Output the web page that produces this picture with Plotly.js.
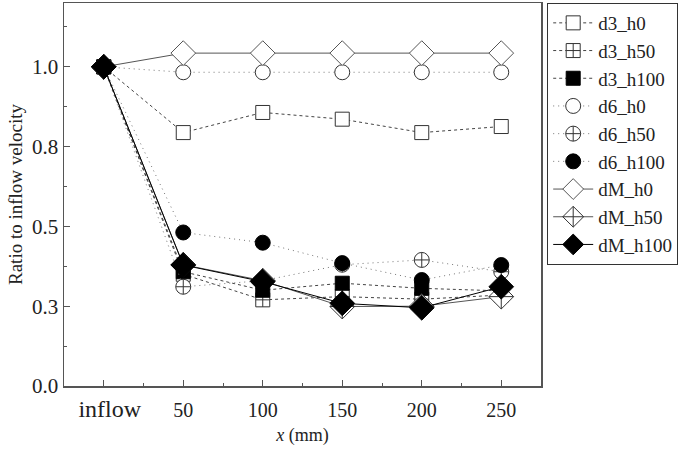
<!DOCTYPE html>
<html><head><meta charset="utf-8">
<script src="https://cdn.plot.ly/plotly-3.0.1.min.js"></script>
<style>html,body{margin:0;padding:0;background:#fff}#c{width:685px;height:449px}</style>
</head><body><div id="c"></div>
<script>
const xVals = [0, 50, 100, 150, 200, 250];
const xTickText = ['<span style="font-size:24px">&nbsp;&nbsp;inflow</span>', '50', '100', '150', '200', '250'];
const yTickVals = [0, 0.25, 0.5, 0.75, 1.0];
const yTickText = ['0.0', '0.3', '0.5', '0.8', '1.0'];

const d3_h0   = [1.0, 0.794, 0.857, 0.836, 0.794, 0.813];
const d3_h50  = [1.0, 0.350, 0.270, 0.280, 0.272, 0.285];
const d3_h100 = [1.0, 0.358, 0.300, 0.322, 0.306, 0.298];
const d6_h0   = [1.0, 0.983, 0.983, 0.983, 0.983, 0.983];
const d6_h50  = [1.0, 0.311, 0.330, 0.380, 0.395, 0.358];
const d6_h100 = [1.0, 0.481, 0.449, 0.385, 0.332, 0.379];
const dM_h0   = [1.0, 1.043, 1.043, 1.043, 1.043, 1.043];
const dM_h50  = [1.0, 0.380, 0.330, 0.249, 0.250, 0.280];
const dM_h100 = [1.0, 0.379, 0.327, 0.259, 0.245, 0.311];

function tr(name, y, symbol, fill, size, dash, lcol, mline) {
  return {
    x: xVals, y: y, name: name, type: 'scatter', mode: 'lines+markers',
    line: {color: lcol, width: 1, dash: dash},
    marker: {symbol: symbol, size: size, color: fill, line: {color: mline, width: 1}}
  };
}
const data = [
  tr('d3_h0',   d3_h0,   'square',       '#fff', 14, 'dot', '#444', '#333'),
  tr('d3_h50',  d3_h50,  'square-cross', '#fff', 14, 'dot', '#444', '#333'),
  tr('d3_h100', d3_h100, 'square',       '#000', 14, 'dot', '#444', '#000'),
  tr('d6_h0',   d6_h0,   'circle',       '#fff', 15, '1px,4px', '#777', '#333'),
  tr('d6_h50',  d6_h50,  'circle-cross', '#fff', 15, '1px,4px', '#777', '#333'),
  tr('d6_h100', d6_h100, 'circle',       '#000', 15, '1px,4px', '#777', '#000'),
  tr('dM_h0',   dM_h0,   'diamond',       '#fff', 19, 'solid', '#555', '#555'),
  tr('dM_h50',  dM_h50,  'diamond-cross', '#fff', 19, 'solid', '#555', '#333'),
  tr('dM_h100', dM_h100, 'diamond',       '#000', 19, 'solid', '#000', '#000')
];

const layout = {
  width: 685, height: 449,
  margin: {l: 64, r: 144, t: 3, b: 63},
  paper_bgcolor: '#fff', plot_bgcolor: '#fff',
  font: {family: '"Liberation Serif", "Times New Roman", serif', color: '#222', size: 18},
  showlegend: true,
  legend: {x: 1.013, y: 1.0, xanchor: 'left', yanchor: 'top',
    bordercolor: '#333', borderwidth: 1, bgcolor: '#fff',
    font: {size: 19, family: '"Liberation Serif", serif', color: '#222'},
    tracegroupgap: 0, itemwidth: 40},
  xaxis: {
    range: [-25, 275], tickmode: 'array', tickvals: xVals, ticktext: xTickText,
    showgrid: false, zeroline: false, showline: true, linecolor: '#555', linewidth: 1.5,
    mirror: true, ticks: 'inside', ticklen: 6, tickcolor: '#555', tickwidth: 1,
    ticklabelstandoff: 5,
    tickfont: {size: 20}, minor: {dtick: 25, tick0: 0, ticks: 'inside', ticklen: 3, tickcolor: '#555'},
    title: {text: '<i>x</i> (mm)', font: {size: 18}, standoff: 8}
  },
  yaxis: {
    range: [0, 1.2], tickmode: 'array', tickvals: yTickVals, ticktext: yTickText,
    showgrid: false, zeroline: false, showline: true, linecolor: '#555', linewidth: 1.5,
    mirror: true, ticks: 'inside', ticklen: 6, tickcolor: '#555', tickwidth: 1,
    tickfont: {size: 21}, minor: {dtick: 0.125, tick0: 0, ticks: 'inside', ticklen: 3, tickcolor: '#555'},
    title: {text: 'Ratio to inflow velocity', font: {size: 19}, standoff: 4}
  }
};
Plotly.newPlot('c', data, layout, {displayModeBar: false, staticPlot: true});
</script></body></html>
